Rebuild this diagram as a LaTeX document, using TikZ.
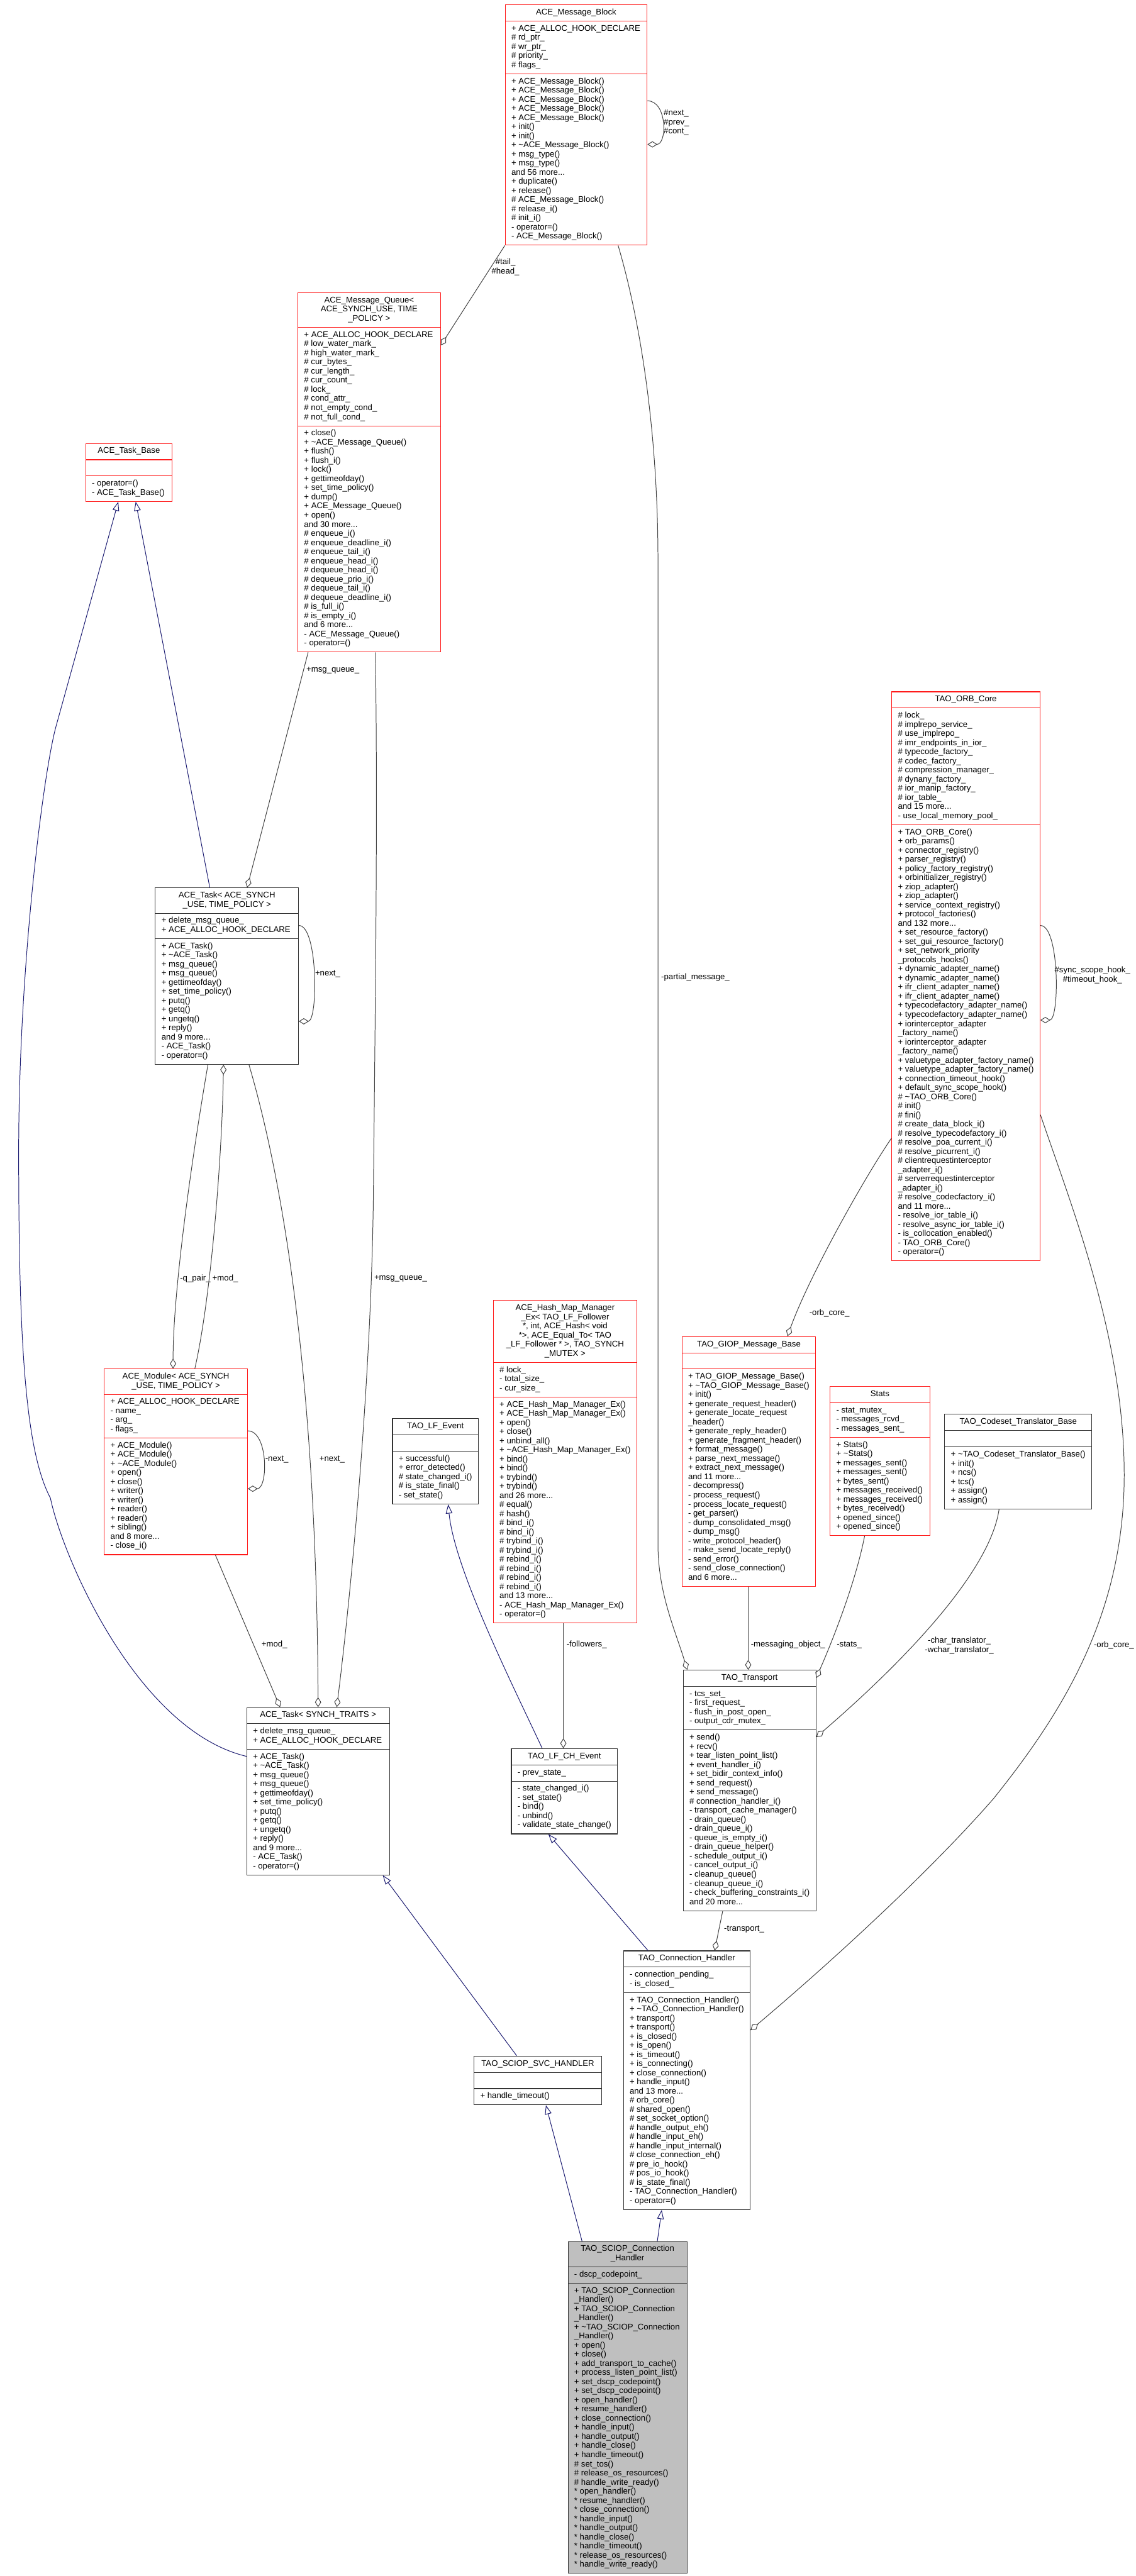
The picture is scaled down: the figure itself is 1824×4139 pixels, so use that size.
\documentclass[tikz,border=0pt]{standalone}
\usepackage{fontspec}
\setmainfont{Liberation Sans}
\usetikzlibrary{shapes.multipart,arrows.meta,calc}
\definecolor{midblue}{HTML}{191970}
\definecolor{edgegray}{HTML}{404040}
\definecolor{boxred}{HTML}{FF1A1A}
\definecolor{maingray}{HTML}{BFBFBF}
\newcommand\clsT[1]{\begin{tabular}{@{}c@{}}#1\end{tabular}}
\newcommand\clsM[1]{\begin{tabular}{@{}l@{}}#1\end{tabular}}
\newcommand\tld{\textasciitilde}
\tikzset{
  cls/.style={rectangle split, rectangle split parts=3, draw=black!80, line width=0.8pt,
    anchor=north west, inner xsep=7.5pt, inner ysep=3.9pt, fill=white,
    font=\fontsize{10}{11}\selectfont, rectangle split part align={center,left,left}},
  redcls/.style={cls, draw=boxred},
  maincls/.style={cls, fill=maingray},
  inh/.style={draw=midblue, line width=0.75pt, -{Triangle[open, length=11pt, width=8pt]}},
  col/.style={draw=edgegray, line width=0.75pt, {Diamond[open, length=12pt, width=7.5pt]}-},
  lbl/.style={font=\fontsize{10}{11}\selectfont, inner sep=0pt, align=left, text=black}
}
\begin{document}
\begin{tikzpicture}[x=0.75pt,y=-0.75pt]
\fill[white] (0,0) rectangle (1824,4139);
\useasboundingbox (0,0) rectangle (1824,4139);

% ---------------- classes ----------------
\node[redcls, minimum width=228*0.75pt] (mb) at (811,7) {\clsT{ACE\_Message\_Block}%
\nodepart{second}\clsM{+ ACE\_ALLOC\_HOOK\_DECLARE\\\# rd\_ptr\_\\\# wr\_ptr\_\\\# priority\_\\\# flags\_}%
\nodepart{third}\clsM{+ ACE\_Message\_Block()\\+ ACE\_Message\_Block()\\+ ACE\_Message\_Block()\\+ ACE\_Message\_Block()\\+ ACE\_Message\_Block()\\+ init()\\+ init()\\+ \tld ACE\_Message\_Block()\\+ msg\_type()\\+ msg\_type()\\and 56 more...\\+ duplicate()\\+ release()\\\# ACE\_Message\_Block()\\\# release\_i()\\\# init\_i()\\- operator=()\\- ACE\_Message\_Block()}};

\node[redcls, minimum width=229*0.75pt] (mq) at (478,470) {\clsT{ACE\_Message\_Queue<\\ ACE\_SYNCH\_USE, TIME\\\_POLICY >}%
\nodepart{second}\clsM{+ ACE\_ALLOC\_HOOK\_DECLARE\\\# low\_water\_mark\_\\\# high\_water\_mark\_\\\# cur\_bytes\_\\\# cur\_length\_\\\# cur\_count\_\\\# lock\_\\\# cond\_attr\_\\\# not\_empty\_cond\_\\\# not\_full\_cond\_}%
\nodepart{third}\clsM{+ close()\\+ \tld ACE\_Message\_Queue()\\+ flush()\\+ flush\_i()\\+ lock()\\+ gettimeofday()\\+ set\_time\_policy()\\+ dump()\\+ ACE\_Message\_Queue()\\+ open()\\and 30 more...\\\# enqueue\_i()\\\# enqueue\_deadline\_i()\\\# enqueue\_tail\_i()\\\# enqueue\_head\_i()\\\# dequeue\_head\_i()\\\# dequeue\_prio\_i()\\\# dequeue\_tail\_i()\\\# dequeue\_deadline\_i()\\\# is\_full\_i()\\\# is\_empty\_i()\\and 6 more...\\- ACE\_Message\_Queue()\\- operator=()}};

\node[redcls, minimum width=139*0.75pt] (tb) at (137,712) {\clsT{ACE\_Task\_Base}%
\nodepart{second}\clsM{\mbox{}}%
\nodepart{third}\clsM{- operator=()\\- ACE\_Task\_Base()}};

\node[cls, minimum width=230*0.75pt] (tu) at (249,1426) {\clsT{ACE\_Task< ACE\_SYNCH\\\_USE, TIME\_POLICY >}%
\nodepart{second}\clsM{+ delete\_msg\_queue\_\\+ ACE\_ALLOC\_HOOK\_DECLARE}%
\nodepart{third}\clsM{+ ACE\_Task()\\+ \tld ACE\_Task()\\+ msg\_queue()\\+ msg\_queue()\\+ gettimeofday()\\+ set\_time\_policy()\\+ putq()\\+ getq()\\+ ungetq()\\+ reply()\\and 9 more...\\- ACE\_Task()\\- operator=()}};

\node[redcls, minimum width=230*0.75pt] (mod) at (167,2199) {\clsT{ACE\_Module< ACE\_SYNCH\\\_USE, TIME\_POLICY >}%
\nodepart{second}\clsM{+ ACE\_ALLOC\_HOOK\_DECLARE\\- name\_\\- arg\_\\- flags\_}%
\nodepart{third}\clsM{+ ACE\_Module()\\+ ACE\_Module()\\+ \tld ACE\_Module()\\+ open()\\+ close()\\+ writer()\\+ writer()\\+ reader()\\+ reader()\\+ sibling()\\and 8 more...\\- close\_i()}};

\node[cls, minimum width=229*0.75pt] (tt) at (396,2743) {\clsT{ACE\_Task< SYNCH\_TRAITS >}%
\nodepart{second}\clsM{+ delete\_msg\_queue\_\\+ ACE\_ALLOC\_HOOK\_DECLARE}%
\nodepart{third}\clsM{+ ACE\_Task()\\+ \tld ACE\_Task()\\+ msg\_queue()\\+ msg\_queue()\\+ gettimeofday()\\+ set\_time\_policy()\\+ putq()\\+ getq()\\+ ungetq()\\+ reply()\\and 9 more...\\- ACE\_Task()\\- operator=()}};

\node[redcls, minimum width=227*0.75pt] (hm) at (792,2089) {\clsT{ACE\_Hash\_Map\_Manager\\\_Ex< TAO\_LF\_Follower\\{*}, int, ACE\_Hash< void\\{*}>, ACE\_Equal\_To< TAO\\\_LF\_Follower * >, TAO\_SYNCH\\\_MUTEX >}%
\nodepart{second}\clsM{\# lock\_\\- total\_size\_\\- cur\_size\_}%
\nodepart{third}\clsM{+ ACE\_Hash\_Map\_Manager\_Ex()\\+ ACE\_Hash\_Map\_Manager\_Ex()\\+ open()\\+ close()\\+ unbind\_all()\\+ \tld ACE\_Hash\_Map\_Manager\_Ex()\\+ bind()\\+ bind()\\+ trybind()\\+ trybind()\\and 26 more...\\\# equal()\\\# hash()\\\# bind\_i()\\\# bind\_i()\\\# trybind\_i()\\\# trybind\_i()\\\# rebind\_i()\\\# rebind\_i()\\\# rebind\_i()\\\# rebind\_i()\\and 13 more...\\- ACE\_Hash\_Map\_Manager\_Ex()\\- operator=()}};

\node[cls, minimum width=137*0.75pt] (lfe) at (630,2279) {\clsT{TAO\_LF\_Event}%
\nodepart{second}\clsM{\mbox{}}%
\nodepart{third}\clsM{+ successful()\\+ error\_detected()\\\# state\_changed\_i()\\\# is\_state\_final()\\- set\_state()}};

\node[cls, minimum width=168*0.75pt] (lfch) at (821,2809) {\clsT{TAO\_LF\_CH\_Event}%
\nodepart{second}\clsM{- prev\_state\_}%
\nodepart{third}\clsM{- state\_changed\_i()\\- set\_state()\\- bind()\\- unbind()\\- validate\_state\_change()}};

\node[redcls, minimum width=235*0.75pt] (orb) at (1432,1111) {\clsT{TAO\_ORB\_Core}%
\nodepart{second}\clsM{\# lock\_\\\# implrepo\_service\_\\\# use\_implrepo\_\\\# imr\_endpoints\_in\_ior\_\\\# typecode\_factory\_\\\# codec\_factory\_\\\# compression\_manager\_\\\# dynany\_factory\_\\\# ior\_manip\_factory\_\\\# ior\_table\_\\and 15 more...\\- use\_local\_memory\_pool\_}%
\nodepart{third}\clsM{+ TAO\_ORB\_Core()\\+ orb\_params()\\+ connector\_registry()\\+ parser\_registry()\\+ policy\_factory\_registry()\\+ orbinitializer\_registry()\\+ ziop\_adapter()\\+ ziop\_adapter()\\+ service\_context\_registry()\\+ protocol\_factories()\\and 132 more...\\+ set\_resource\_factory()\\+ set\_gui\_resource\_factory()\\+ set\_network\_priority\\\_protocols\_hooks()\\+ dynamic\_adapter\_name()\\+ dynamic\_adapter\_name()\\+ ifr\_client\_adapter\_name()\\+ ifr\_client\_adapter\_name()\\+ typecodefactory\_adapter\_name()\\+ typecodefactory\_adapter\_name()\\+ iorinterceptor\_adapter\\\_factory\_name()\\+ iorinterceptor\_adapter\\\_factory\_name()\\+ valuetype\_adapter\_factory\_name()\\+ valuetype\_adapter\_factory\_name()\\+ connection\_timeout\_hook()\\+ default\_sync\_scope\_hook()\\\# \tld TAO\_ORB\_Core()\\\# init()\\\# fini()\\\# create\_data\_block\_i()\\\# resolve\_typecodefactory\_i()\\\# resolve\_poa\_current\_i()\\\# resolve\_picurrent\_i()\\\# clientrequestinterceptor\\\_adapter\_i()\\\# serverrequestinterceptor\\\_adapter\_i()\\\# resolve\_codecfactory\_i()\\and 11 more...\\- resolve\_ior\_table\_i()\\- resolve\_async\_ior\_table\_i()\\- is\_collocation\_enabled()\\- TAO\_ORB\_Core()\\- operator=()}};

\node[redcls, minimum width=215*0.75pt] (giop) at (1095,2147) {\clsT{TAO\_GIOP\_Message\_Base}%
\nodepart{second}\clsM{\mbox{}}%
\nodepart{third}\clsM{+ TAO\_GIOP\_Message\_Base()\\+ \tld TAO\_GIOP\_Message\_Base()\\+ init()\\+ generate\_request\_header()\\+ generate\_locate\_request\\\_header()\\+ generate\_reply\_header()\\+ generate\_fragment\_header()\\+ format\_message()\\+ parse\_next\_message()\\+ extract\_next\_message()\\and 11 more...\\- decompress()\\- process\_request()\\- process\_locate\_request()\\- get\_parser()\\- dump\_consolidated\_msg()\\- dump\_msg()\\- write\_protocol\_header()\\- make\_send\_locate\_reply()\\- send\_error()\\- send\_close\_connection()\\and 6 more...}};

\node[redcls, minimum width=160*0.75pt] (stats) at (1333,2227) {\clsT{Stats}%
\nodepart{second}\clsM{- stat\_mutex\_\\- messages\_rcvd\_\\- messages\_sent\_}%
\nodepart{third}\clsM{+ Stats()\\+ \tld Stats()\\+ messages\_sent()\\+ messages\_sent()\\+ bytes\_sent()\\+ messages\_received()\\+ messages\_received()\\+ bytes\_received()\\+ opened\_since()\\+ opened\_since()}};

\node[cls, minimum width=235*0.75pt] (cs) at (1517,2272) {\clsT{TAO\_Codeset\_Translator\_Base}%
\nodepart{second}\clsM{\mbox{}}%
\nodepart{third}\clsM{+ \tld TAO\_Codeset\_Translator\_Base()\\+ init()\\+ ncs()\\+ tcs()\\+ assign()\\+ assign()}};

\node[cls, minimum width=211*0.75pt] (tr) at (1097,2683) {\clsT{TAO\_Transport}%
\nodepart{second}\clsM{- tcs\_set\_\\- first\_request\_\\- flush\_in\_post\_open\_\\- output\_cdr\_mutex\_}%
\nodepart{third}\clsM{+ send()\\+ recv()\\+ tear\_listen\_point\_list()\\+ event\_handler\_i()\\+ set\_bidir\_context\_info()\\+ send\_request()\\+ send\_message()\\\# connection\_handler\_i()\\- transport\_cache\_manager()\\- drain\_queue()\\- drain\_queue\_i()\\- queue\_is\_empty\_i()\\- drain\_queue\_helper()\\- schedule\_output\_i()\\- cancel\_output\_i()\\- cleanup\_queue()\\- cleanup\_queue\_i()\\- check\_buffering\_constraints\_i()\\and 20 more...}};

\node[cls, minimum width=203*0.75pt] (ch) at (1001,3134) {\clsT{TAO\_Connection\_Handler}%
\nodepart{second}\clsM{- connection\_pending\_\\- is\_closed\_}%
\nodepart{third}\clsM{+ TAO\_Connection\_Handler()\\+ \tld TAO\_Connection\_Handler()\\+ transport()\\+ transport()\\+ is\_closed()\\+ is\_open()\\+ is\_timeout()\\+ is\_connecting()\\+ close\_connection()\\+ handle\_input()\\and 13 more...\\\# orb\_core()\\\# shared\_open()\\\# set\_socket\_option()\\\# handle\_output\_eh()\\\# handle\_input\_eh()\\\# handle\_input\_internal()\\\# close\_connection\_eh()\\\# pre\_io\_hook()\\\# pos\_io\_hook()\\\# is\_state\_final()\\- TAO\_Connection\_Handler()\\- operator=()}};

\node[cls, minimum width=205*0.75pt] (svc) at (761,3303) {\clsT{TAO\_SCIOP\_SVC\_HANDLER}%
\nodepart{second}\clsM{\mbox{}}%
\nodepart{third}\clsM{+ handle\_timeout()}};

\node[maincls, minimum width=191*0.75pt] (sciop) at (912,3601) {\clsT{TAO\_SCIOP\_Connection\\\_Handler}%
\nodepart{second}\clsM{- dscp\_codepoint\_}%
\nodepart{third}\clsM{+ TAO\_SCIOP\_Connection\\\_Handler()\\+ TAO\_SCIOP\_Connection\\\_Handler()\\+ \tld TAO\_SCIOP\_Connection\\\_Handler()\\+ open()\\+ close()\\+ add\_transport\_to\_cache()\\+ process\_listen\_point\_list()\\+ set\_dscp\_codepoint()\\+ set\_dscp\_codepoint()\\+ open\_handler()\\+ resume\_handler()\\+ close\_connection()\\+ handle\_input()\\+ handle\_output()\\+ handle\_close()\\+ handle\_timeout()\\\# set\_tos()\\\# release\_os\_resources()\\\# handle\_write\_ready()\\{*} open\_handler()\\{*} resume\_handler()\\{*} close\_connection()\\{*} handle\_input()\\{*} handle\_output()\\{*} handle\_close()\\{*} handle\_timeout()\\{*} release\_os\_resources()\\{*} handle\_write\_ready()}};

% ---------------- inheritance ----------------
\draw[inh] ($(tu.north west)+(88,0)$) -- ($(tb.south west)+(81,0)$);
\draw[inh] ($(tt.north west)+(0,79)$) .. controls (220,2780) and (100,2500) .. (81,2407)
  .. controls (40,2330) and (30,2150) .. (30,1850)
  .. controls (30,1550) and (70,1240) .. (90,1167) -- ($(tb.south west)+(53,0)$);
\draw[inh] ($(lfch.north west)+(50,0)$) .. controls (820,2700) and (730,2520) .. ($(lfe.south west)+(90,0)$);
\draw[inh] ($(ch.north west)+(40,0)$) -- ($(lfch.south west)+(60,0)$);
\draw[inh] ($(svc.north west)+(69,0)$) -- ($(tt.south west)+(219,0)$);
\draw[inh] ($(sciop.north west)+(23,0)$) -- ($(svc.south west)+(116,0)$);
\draw[inh] ($(sciop.north west)+(144,0)$) -- ($(ch.south west)+(62,0)$);

% ---------------- collaboration ----------------
\draw[col] ($(mb.north east)+(0,225)$) .. controls +(32,0) and +(32,0) .. ($(mb.north east)+(0,155)$);
\node[lbl] (l1) at (1066,197) [anchor=west] {\#next\_\\\#prev\_\\\#cont\_};

\draw[col] ($(mq.north east)+(0,85)$) -- (mb.south west);
\node[lbl, align=center] (l2) at (812,429) {\#tail\_\\\#head\_};

\draw[col] ($(tu.north west)+(148,0)$) -- ($(mq.south west)+(17,0)$);
\node[lbl, anchor=west] (l3) at (492,1077) {+msg\_queue\_};

\draw[col] ($(tt.north west)+(145,0)$) .. controls (565,2550) and (598,2200) .. (600,1900)
  .. controls (603,1600) and (607,1300) .. ($(mq.south west)+(125,0)$);
\node[lbl, anchor=west] (l4) at (601,2054) {+msg\_queue\_};

\draw[col] ($(tu.north east)+(0,215)$) .. controls +(31,0) and +(31,0) .. ($(tu.north east)+(0,61)$);
\node[lbl, anchor=west] (l5) at (506,1565) {+next\_};

\draw[col] ($(mod.north west)+(111,0)$) .. controls (278,2080) and (305,1880) .. ($(tu.south west)+(85,0)$);
\node[lbl, anchor=west] (l6) at (289,2054) {-q\_pair\_};
\draw[col] ($(tu.south west)+(110,0)$) .. controls (357,1850) and (340,2080) .. ($(mod.north west)+(146,0)$);
\node[lbl, anchor=west] (l7) at (341,2054) {+mod\_};

\draw[col] ($(mod.north east)+(0,193)$) .. controls +(33,0) and +(33,0) .. ($(mod.north east)+(0,100)$);
\node[lbl, anchor=west] (l8) at (426,2345) {-next\_};

\draw[col] ($(tt.north west)+(115,0)$) .. controls (509,2300) and (470,1950) .. ($(tu.south west)+(151,0)$);
\node[lbl, anchor=west] (l9) at (513,2345) {+next\_};

\draw[col] ($(tt.north west)+(54,0)$) -- ($(mod.south west)+(179,0)$);
\node[lbl, anchor=west] (l10) at (420,2642) {+mod\_};

\draw[col] ($(lfch.north west)+(84,0)$) -- ($(hm.south west)+(113,0)$);
\node[lbl, anchor=west] (l11) at (910,2642) {-followers\_};

\draw[col] ($(tr.north west)+(7,0)$) .. controls (1085,2620) and (1057,2560) .. (1057,2481)
  -- (1057,900) .. controls (1057,700) and (1030,520) .. ($(mb.south west)+(182,0)$);
\node[lbl, anchor=west] (l12) at (1062,1570) {-partial\_message\_};

\draw[col] ($(tr.north west)+(105,0)$) -- ($(giop.south west)+(107,0)$);
\node[lbl, anchor=west] (l13) at (1206,2643) {-messaging\_object\_};

\draw[col] ($(tr.north east)+(0,13)$) .. controls (1340,2630) and (1375,2540) .. ($(stats.south west)+(56,0)$);
\node[lbl, anchor=west] (l14) at (1344,2643) {-stats\_};

\draw[col] ($(tr.north east)+(0,108)$) .. controls (1440,2680) and (1590,2530) .. ($(cs.south west)+(88,0)$);
\node[lbl, align=center] (l15) at (1541,2644) {-char\_translator\_\\-wchar\_translator\_};

\draw[col] ($(giop.north west)+(170,0)$) .. controls (1300,2050) and (1390,1890) .. ($(orb.north west)+(0,718)$);
\node[lbl, anchor=west] (l16) at (1300,2110) {-orb\_core\_};

\draw[col] ($(orb.north east)+(0,528)$) .. controls +(31,0) and +(31,0) .. ($(orb.north east)+(0,376)$);
\node[lbl, align=center] (l17) at (1755,1567) {\#sync\_scope\_hook\_\\\#timeout\_hook\_};

\draw[col] ($(ch.north east)+(0,128)$) .. controls (1350,3140) and (1500,3000) .. (1596,2890)
  .. controls (1700,2760) and (1806,2600) .. (1806,2370)
  .. controls (1806,2150) and (1722,1940) .. ($(orb.north east)+(0,680)$);
\node[lbl, anchor=west] (l18) at (1757,2643) {-orb\_core\_};

\draw[col] ($(ch.north west)+(147,0)$) -- ($(tr.south west)+(64,0)$);
\node[lbl, anchor=west] (l19) at (1163,3100) {-transport\_};
\end{tikzpicture}
\end{document}
